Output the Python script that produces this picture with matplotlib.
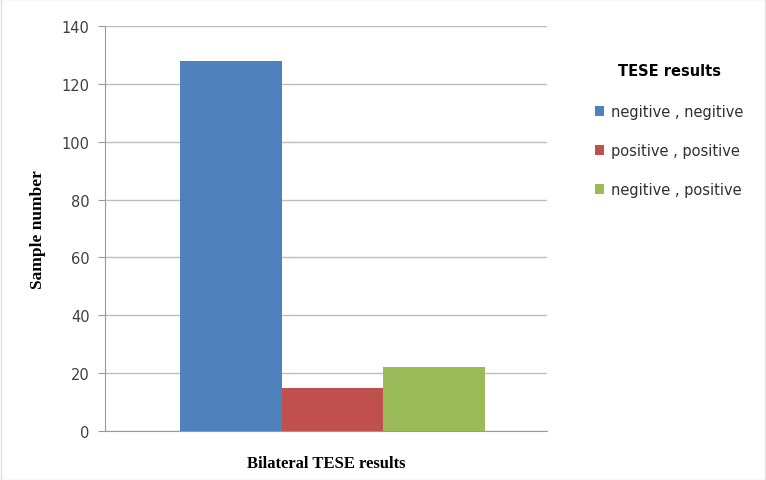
import matplotlib
matplotlib.use("Agg")
import matplotlib.pyplot as plt
from matplotlib.patches import Rectangle

categories = ["negitive , negitive", "positive , positive", "negitive , positive"]
values = [128, 15, 22]
colors = ["#4f81bd", "#c0504d", "#9bbb59"]
yticks = [0, 20, 40, 60, 80, 100, 120, 140]


def main():
    fig = plt.figure(figsize=(7.66, 4.81), dpi=100)
    ax = fig.add_axes([0.137, 0.102, 0.577, 0.842])

    offsets = [-1, 0, 1]
    bars = []
    for off, v, c, lab in zip(offsets, values, colors, categories):
        b = ax.bar(off, v, width=1.0, color=c, label=lab, zorder=3)
        bars.append(b)

    ax.set_xlim(-2.24, 2.11)
    ax.set_ylim(0, 140)
    ax.set_yticks(yticks)
    ax.set_xticks([])
    ax.yaxis.grid(True, color="#bdbdbd", linewidth=1.0, zorder=0)
    ax.tick_params(axis="y", length=5, color="#9a9a9a", labelsize=10.5,
                   labelcolor="#404040", pad=6)
    for s in ["top", "right"]:
        ax.spines[s].set_visible(False)
    ax.spines["left"].set_color("#9a9a9a")
    ax.spines["bottom"].set_color("#9a9a9a")

    ax.set_ylabel("Sample number", family="Liberation Serif", fontweight="bold",
                  fontsize=12.5, labelpad=11)
    ax.set_xlabel("Bilateral TESE results", family="Liberation Serif", fontweight="bold",
                  fontsize=12, labelpad=17)

    leg = fig.legend(handles=[b[0] for b in bars], labels=categories,
                     title="TESE results", loc="upper left",
                     bbox_to_anchor=(0.76, 0.895), frameon=False,
                     fontsize=10.5, handlelength=0.6, handleheight=0.6,
                     handletextpad=0.5, labelspacing=1.65,
                     title_fontproperties={"weight": "bold", "size": 10.5})
    leg._legend_box.sep = 19
    for t in leg.get_texts():
        t.set_color("#303030")

    fig.patches.append(Rectangle((0.001, 0.001), 0.998, 0.998, transform=fig.transFigure,
                                 fill=False, edgecolor="#e0e0e0", linewidth=1))

    fig.savefig("out.png", dpi=100)


if __name__ == "__main__":
    main()
